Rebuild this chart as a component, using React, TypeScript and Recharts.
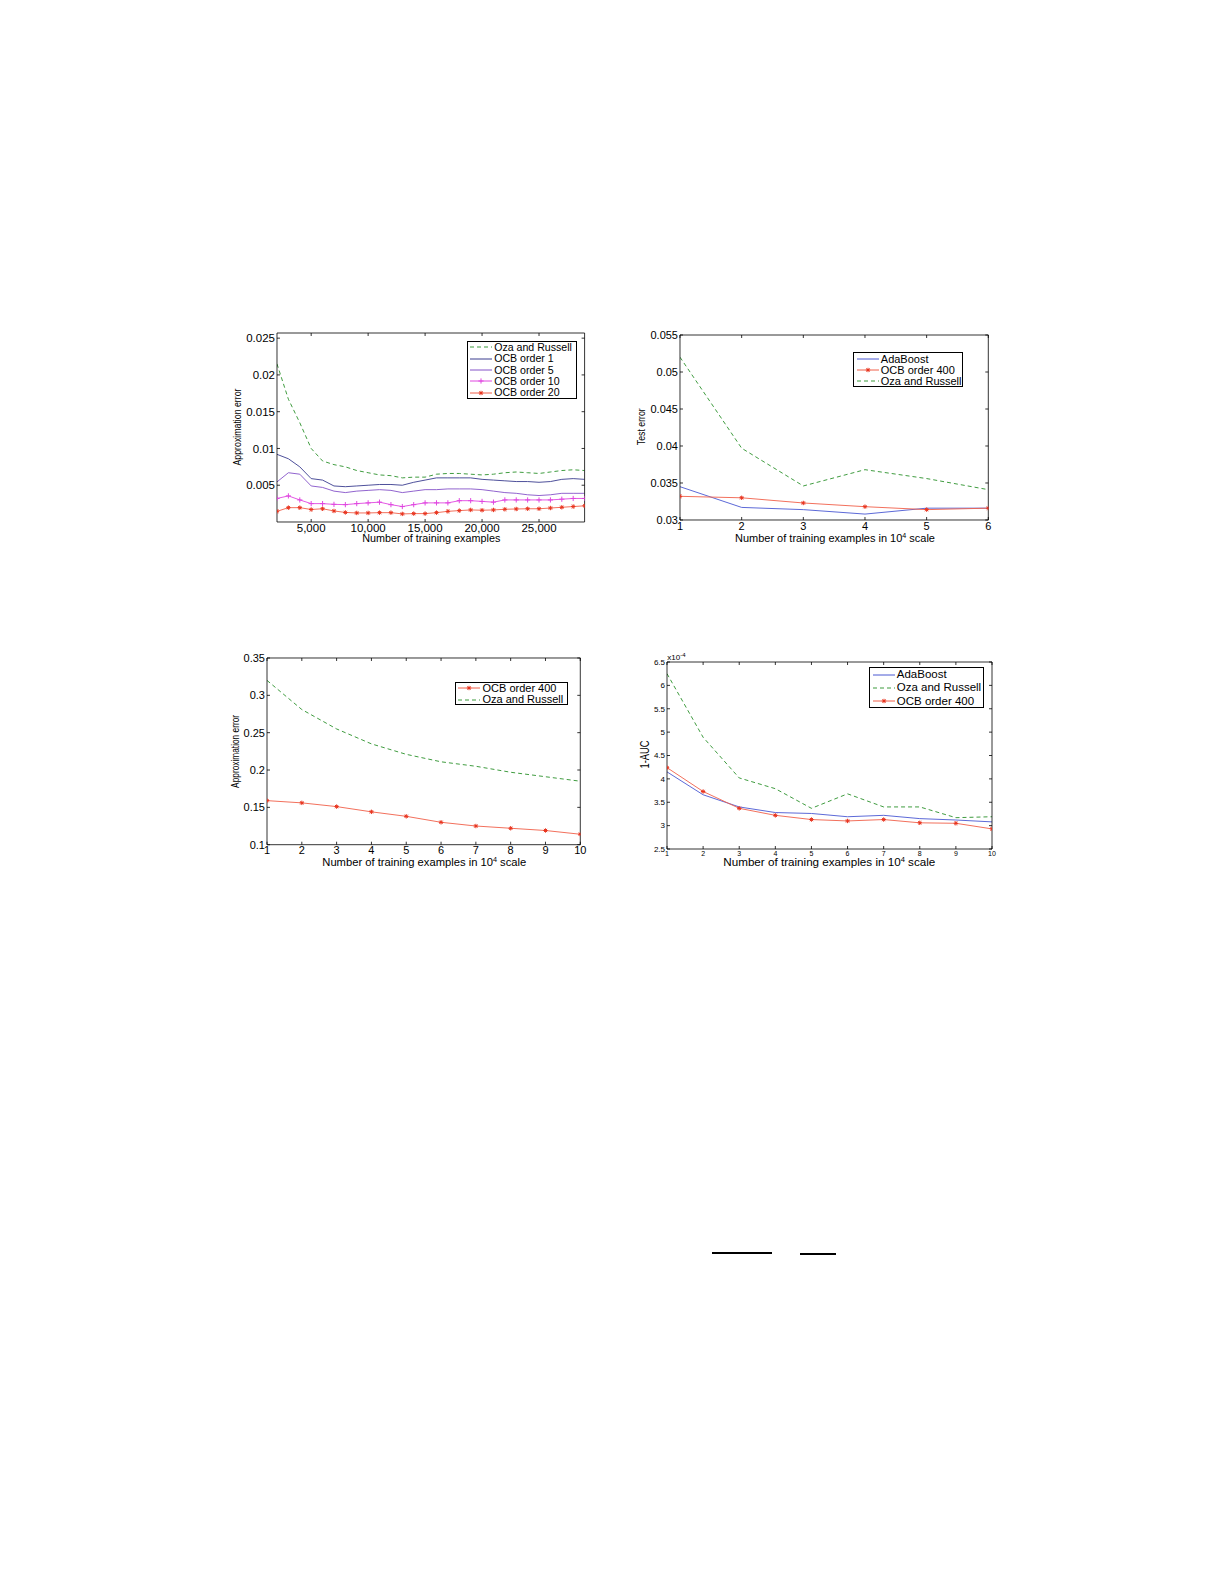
import React from 'react';
import { LineChart, Line, XAxis, YAxis, Legend } from 'recharts';

const FONT = '"Liberation Sans", Arial, Helvetica, sans-serif';

// top-left: approximation error vs number of training examples
const sizesA = [
  2000, 3000, 4000, 5000, 6000, 7000, 8000, 9000, 10000, 11000, 12000, 13000, 14000, 15000,
  16000, 17000, 18000, 19000, 20000, 21000, 22000, 23000, 24000, 25000, 26000, 27000, 28000, 29000,
];
const ozaA = [
  0.0215, 0.0167, 0.0135, 0.01, 0.0083, 0.0078, 0.0075, 0.007, 0.0067, 0.0064, 0.0063, 0.006, 0.0061, 0.0061,
  0.0065, 0.0066, 0.0066, 0.0065, 0.0064, 0.0065, 0.0067, 0.0068, 0.0067, 0.0066, 0.0068, 0.007, 0.0071, 0.007,
];
const ocb1A = [
  0.0092, 0.0086, 0.0075, 0.0059, 0.0057, 0.0049, 0.0048, 0.0049, 0.005, 0.0051, 0.0051, 0.005, 0.0054, 0.0057,
  0.006, 0.006, 0.006, 0.006, 0.0058, 0.0057, 0.0056, 0.0055, 0.0055, 0.0054, 0.0055, 0.0058, 0.0059, 0.0058,
];
const ocb5A = [
  0.00545, 0.0067, 0.0065, 0.0049, 0.0047, 0.0042, 0.004, 0.0042, 0.0043, 0.0044, 0.0043, 0.004, 0.0042, 0.0044,
  0.0044, 0.0045, 0.0045, 0.0045, 0.0044, 0.0042, 0.004, 0.0039, 0.0037, 0.0036, 0.0037, 0.0039, 0.0039, 0.0039,
];
const ocb10A = [
  0.0032, 0.00355, 0.003, 0.0025, 0.0025, 0.0024, 0.00236, 0.0025, 0.0026, 0.0027, 0.00236, 0.0021, 0.00236, 0.0026,
  0.0026, 0.0026, 0.0029, 0.0029, 0.0028, 0.0027, 0.003, 0.003, 0.003, 0.003, 0.003, 0.0031, 0.0032, 0.0032,
];
const ocb20A = [
  0.00145, 0.00195, 0.00195, 0.0017, 0.0018, 0.0015, 0.0013, 0.00123, 0.00123, 0.00127, 0.00127, 0.0011, 0.00114, 0.00114,
  0.00127, 0.00145, 0.00155, 0.00164, 0.0016, 0.00164, 0.00173, 0.00177, 0.0018, 0.0018, 0.0019, 0.002, 0.0021, 0.0022,
];
const xTicksA = [5000, 10000, 15000, 20000, 25000];
const yTicksA = [0.005, 0.01, 0.015, 0.02, 0.025];

// top-right: test error
const stepsB = [1, 2, 3, 4, 5, 6];
const adaB = [0.0345, 0.0317, 0.0314, 0.0308, 0.0316, 0.0316];
const ocbB = [0.0332, 0.033, 0.0323, 0.0318, 0.0314, 0.0316];
const ozaB = [0.052, 0.0397, 0.0346, 0.0368, 0.0356, 0.0341];
const yTicksB = [0.03, 0.035, 0.04, 0.045, 0.05, 0.055];

// bottom-left: approximation error, 10^4 scale
const stepsC = [1, 2, 3, 4, 5, 6, 7, 8, 9, 10];
const ocbC = [0.159, 0.156, 0.151, 0.144, 0.138, 0.13, 0.125, 0.122, 0.119, 0.114];
const ozaC = [0.32, 0.281, 0.255, 0.235, 0.221, 0.211, 0.205, 0.197, 0.191, 0.185];
const yTicksC = [0.1, 0.15, 0.2, 0.25, 0.3, 0.35];

// bottom-right: 1-AUC (x10^-4)
const stepsD = [1, 2, 3, 4, 5, 6, 7, 8, 9, 10];
const adaD = [4.15, 3.66, 3.4, 3.28, 3.26, 3.19, 3.22, 3.15, 3.12, 3.08];
const ozaD = [6.25, 4.89, 4.02, 3.79, 3.37, 3.68, 3.4, 3.4, 3.17, 3.19];
const ocbD = [4.24, 3.73, 3.37, 3.22, 3.13, 3.1, 3.13, 3.06, 3.05, 2.93];
const yTicksD = [2.5, 3, 3.5, 4, 4.5, 5, 5.5, 6, 6.5];

const GREEN = '#3f9c3f';
const BLUE = '#4a58d2';
const RED = '#f0604a';
const RED_MARK = '#e8341f';
const NAVY = '#3a3c8e';
const PURPLE = '#8452c8';
const MAGENTA = '#e046e0';

type Marker = 'star' | 'plus' | undefined;
type Series = {
  key: string;
  name: string;
  color: string;
  dash?: string;
  marker?: Marker;
  markerColor?: string;
  values: number[];
};

function drawMarker(marker: Marker, cx: number, cy: number, color: string, key?: string) {
  if (marker === 'star') {
    return (
      <g key={key} stroke={color} strokeWidth={1} fill="none">
        <line x1={cx - 2.2} y1={cy} x2={cx + 2.2} y2={cy} />
        <line x1={cx} y1={cy - 2.2} x2={cx} y2={cy + 2.2} />
        <line x1={cx - 1.6} y1={cy - 1.6} x2={cx + 1.6} y2={cy + 1.6} />
        <line x1={cx - 1.6} y1={cy + 1.6} x2={cx + 1.6} y2={cy - 1.6} />
      </g>
    );
  }
  if (marker === 'plus') {
    return (
      <g key={key} stroke={color} strokeWidth={1} fill="none">
        <line x1={cx - 2.6} y1={cy} x2={cx + 2.6} y2={cy} />
        <line x1={cx} y1={cy - 2.6} x2={cx} y2={cy + 2.6} />
      </g>
    );
  }
  return <g key={key} />;
}

function LegendBox({ items, font, rowH, w, h, padTop }: { items: Series[]; font: number; rowH: number; w: number; h: number; padTop: number }) {
  return (
    <div
      style={{
        width: w,
        height: h,
        boxSizing: 'border-box',
        border: '1px solid #000',
        background: '#fff',
        paddingTop: padTop,
        fontFamily: FONT,
        fontSize: font,
        lineHeight: 1,
        color: '#000',
        whiteSpace: 'nowrap',
        overflow: 'hidden',
      }}
    >
      {items.map((s) => (
        <div key={s.key} style={{ display: 'flex', alignItems: 'center', height: rowH }}>
          <svg width={22} height={8} style={{ marginLeft: 2.5, marginRight: 2, flex: 'none' }}>
            <line x1={0} y1={4} x2={22} y2={4} stroke={s.color} strokeWidth={s.dash ? 1.1 : 1} strokeDasharray={s.dash} />
            {s.marker && drawMarker(s.marker, 11, 4, s.markerColor ?? s.color)}
          </svg>
          <span>{s.name}</span>
        </div>
      ))}
    </div>
  );
}

type Box = { x: number; y: number; w: number; h: number };
type PanelProps = {
  plot: Box;
  xs: number[];
  series: Series[];
  xDomain: [number, number];
  xTicks: number[];
  xFmt: (v: number) => string;
  yDomain: [number, number];
  yTicks: number[];
  xTickFont: number;
  yTickFont: number;
  xTickGap: number;
  xLabel: { x: number; y: number; font: number; len: number; sup?: boolean };
  yLabel: { text: string; x: number; y: number; font: number; len: number };
  legend: Box & { font: number; rowH: number; padTop: number };
  corner?: { x: number; y: number };
};

const ML = 70;
const MT = 24;
const MR = 24;
const MB = 50;

const yFmt = (v: number) => String(parseFloat(v.toFixed(4)));
const hideTick = () => <g />;

function Panel(p: PanelProps) {
  const left = p.plot.x - ML;
  const top = p.plot.y - MT;
  const width = ML + p.plot.w + MR;
  const height = MT + p.plot.h + MB;
  const data = p.xs.map((x, i) => {
    const row: Record<string, number> = { x };
    p.series.forEach((s) => {
      row[s.key] = s.values[i];
    });
    return row;
  });
  const axisLine = { stroke: '#000', strokeWidth: 0.8 };
  const tickLine = { stroke: '#000', strokeWidth: 0.8 };
  const xl = p.xLabel;
  const yl = p.yLabel;

  const renderXLabel = () => (
    <text
      x={xl.x - left}
      y={xl.y - top}
      textAnchor="middle"
      fontSize={xl.font}
      fontFamily={FONT}
      fill="#000"
      textLength={xl.len}
      lengthAdjust="spacingAndGlyphs"
    >
      {xl.sup ? (
        <>
          Number of training examples in 10
          <tspan dy={-4} fontSize={xl.font * 0.65}>4</tspan>
          <tspan dy={4}> scale</tspan>
        </>
      ) : (
        'Number of training examples'
      )}
    </text>
  );

  const renderYLabel = () => {
    const cx = yl.x - left;
    const cy = yl.y - top;
    return (
      <g>
        <text
          x={cx}
          y={cy}
          transform={`rotate(-90, ${cx}, ${cy})`}
          textAnchor="middle"
          dominantBaseline="central"
          fontSize={yl.font}
          fontFamily={FONT}
          fill="#000"
          textLength={yl.len}
          lengthAdjust="spacingAndGlyphs"
        >
          {yl.text}
        </text>
        {p.corner && (
          <text x={p.corner.x - left} y={p.corner.y - top} fontSize={8} fontFamily={FONT} fill="#000">
            x10
            <tspan dy={-3} fontSize={6}>-4</tspan>
          </text>
        )}
      </g>
    );
  };

  const lg = p.legend;

  return (
    <div style={{ position: 'absolute', left, top }}>
      <LineChart width={width} height={height} data={data} margin={{ top: MT - 1, right: MR - 1, bottom: 0, left: 0 }}>
        <XAxis
          dataKey="x"
          type="number"
          domain={p.xDomain}
          ticks={p.xTicks}
          tickFormatter={p.xFmt}
          interval={0}
          allowDataOverflow
          height={MB}
          tickSize={-3}
          tickMargin={3 + p.xTickGap}
          axisLine={axisLine}
          tickLine={tickLine}
          tick={{ fontSize: p.xTickFont, fontFamily: FONT, fill: '#000' }}
          label={renderXLabel}
        />
        <XAxis
          xAxisId="top"
          orientation="top"
          dataKey="x"
          type="number"
          domain={p.xDomain}
          ticks={p.xTicks}
          interval={0}
          allowDataOverflow
          height={1}
          tickSize={-3}
          axisLine={axisLine}
          tickLine={tickLine}
          tick={hideTick}
        />
        <YAxis
          type="number"
          domain={p.yDomain}
          ticks={p.yTicks}
          tickFormatter={yFmt}
          interval={0}
          allowDataOverflow
          width={ML}
          tickSize={-3}
          tickMargin={5}
          axisLine={axisLine}
          tickLine={tickLine}
          tick={{ fontSize: p.yTickFont, fontFamily: FONT, fill: '#000' }}
          label={renderYLabel}
        />
        <YAxis
          yAxisId="right"
          orientation="right"
          type="number"
          domain={p.yDomain}
          ticks={p.yTicks}
          interval={0}
          allowDataOverflow
          width={1}
          tickSize={-3}
          axisLine={axisLine}
          tickLine={tickLine}
          tick={hideTick}
        />
        <Legend
          layout="horizontal"
          verticalAlign="middle"
          align="center"
          wrapperStyle={{ left: lg.x - left, top: lg.y - top, width: lg.w, height: lg.h }}
          content={() => <LegendBox items={p.series} font={lg.font} rowH={lg.rowH} w={lg.w} h={lg.h} padTop={lg.padTop} />}
        />
        {p.series.map((s) => (
          <Line
            key={s.key}
            type="linear"
            dataKey={s.key}
            name={s.name}
            stroke={s.color}
            strokeWidth={s.dash ? 1 : 0.9}
            strokeDasharray={s.dash}
            dot={
              s.marker
                ? (d: any) => drawMarker(s.marker, d.cx, d.cy, s.markerColor ?? s.color, `${s.key}-${d.index}`)
                : false
            }
            activeDot={false}
            isAnimationActive={false}
          />
        ))}
      </LineChart>
    </div>
  );
}

const DASH = '4 3';

export default function App() {
  return (
    <div style={{ position: 'absolute', left: 0, top: 0, width: 1225, height: 1585, background: '#fff', fontFamily: FONT }}>
      <Panel
        plot={{ x: 276.7, y: 332.7, w: 307.6, h: 189 }}
        xs={sizesA}
        series={[
          { key: 'oza', name: 'Oza and Russell', color: GREEN, dash: DASH, values: ozaA },
          { key: 'o1', name: 'OCB order 1', color: NAVY, values: ocb1A },
          { key: 'o5', name: 'OCB order 5', color: PURPLE, values: ocb5A },
          { key: 'o10', name: 'OCB order 10', color: MAGENTA, marker: 'plus', values: ocb10A },
          { key: 'o20', name: 'OCB order 20', color: RED, marker: 'star', markerColor: RED_MARK, values: ocb20A },
        ]}
        xDomain={[2000, 29000]}
        xTicks={xTicksA}
        xFmt={(v) => v.toLocaleString('en-US')}
        yDomain={[0, 0.0257]}
        yTicks={yTicksA}
        xTickFont={11.5}
        yTickFont={11.5}
        xTickGap={2}
        xLabel={{ x: 431, y: 542, font: 11, len: 138 }}
        yLabel={{ text: 'Approximation error', x: 237.7, y: 426.7, font: 10, len: 77 }}
        legend={{ x: 466.7, y: 340.7, w: 110, h: 58, font: 10.6, rowH: 11.3, padTop: 0 }}
      />
      <Panel
        plot={{ x: 680, y: 335, w: 308.3, h: 185 }}
        xs={stepsB}
        series={[
          { key: 'ada', name: 'AdaBoost', color: BLUE, values: adaB },
          { key: 'ocb', name: 'OCB order 400', color: RED, marker: 'star', markerColor: RED_MARK, values: ocbB },
          { key: 'oza', name: 'Oza and Russell', color: GREEN, dash: DASH, values: ozaB },
        ]}
        xDomain={[1, 6]}
        xTicks={stepsB}
        xFmt={(v) => String(v)}
        yDomain={[0.03, 0.055]}
        yTicks={yTicksB}
        xTickFont={11}
        yTickFont={11}
        xTickGap={2}
        xLabel={{ x: 835, y: 542, font: 11, len: 200, sup: true }}
        yLabel={{ text: 'Test error', x: 641.7, y: 426.7, font: 10, len: 37 }}
        legend={{ x: 853.3, y: 352.3, w: 110, h: 35, font: 11, rowH: 10.9, padTop: 0.5 }}
      />
      <Panel
        plot={{ x: 266.7, y: 658.3, w: 313.3, h: 186.7 }}
        xs={stepsC}
        series={[
          { key: 'ocb', name: 'OCB order 400', color: RED, marker: 'star', markerColor: RED_MARK, values: ocbC },
          { key: 'oza', name: 'Oza and Russell', color: GREEN, dash: DASH, values: ozaC },
        ]}
        xDomain={[1, 10]}
        xTicks={stepsC}
        xFmt={(v) => String(v)}
        yDomain={[0.1, 0.35]}
        yTicks={yTicksC}
        xTickFont={11}
        yTickFont={11}
        xTickGap={2}
        xLabel={{ x: 424, y: 866, font: 11, len: 204, sup: true }}
        yLabel={{ text: 'Approximation error', x: 235, y: 751.7, font: 10, len: 73 }}
        legend={{ x: 455, y: 681.7, w: 113, h: 23.5, font: 11, rowH: 11.2, padTop: 0.2 }}
      />
      <Panel
        plot={{ x: 666.7, y: 661.5, w: 325, h: 187 }}
        xs={stepsD}
        series={[
          { key: 'ada', name: 'AdaBoost', color: BLUE, values: adaD },
          { key: 'oza', name: 'Oza and Russell', color: GREEN, dash: DASH, values: ozaD },
          { key: 'ocb', name: 'OCB order 400', color: RED, marker: 'star', markerColor: RED_MARK, values: ocbD },
        ]}
        xDomain={[1, 10]}
        xTicks={stepsD}
        xFmt={(v) => String(v)}
        yDomain={[2.5, 6.5]}
        yTicks={yTicksD}
        xTickFont={7}
        yTickFont={8}
        xTickGap={2}
        xLabel={{ x: 829, y: 865.5, font: 11.5, len: 212, sup: true }}
        yLabel={{ text: '1-AUC', x: 645, y: 754, font: 12, len: 28 }}
        legend={{ x: 869.3, y: 666.7, w: 114.5, h: 41.5, font: 11.5, rowH: 13.3, padTop: 0.5 }}
        corner={{ x: 667, y: 659 }}
      />
      <div style={{ position: 'absolute', left: 712, top: 1251.7, width: 60, height: 2, background: '#000' }} />
      <div style={{ position: 'absolute', left: 800, top: 1252.7, width: 36, height: 2, background: '#000' }} />
    </div>
  );
}
